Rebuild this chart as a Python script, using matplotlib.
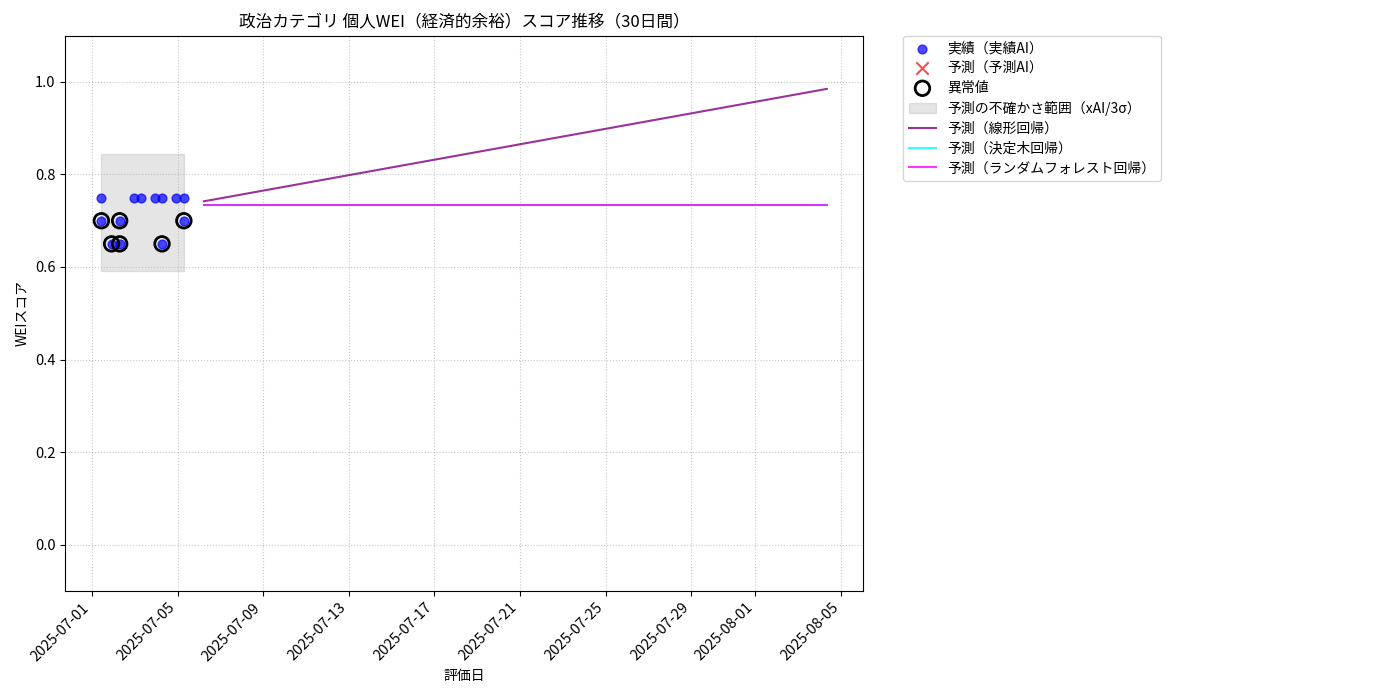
import matplotlib
matplotlib.use("Agg")
import matplotlib.pyplot as plt
import matplotlib.dates as mdates
import pandas as pd

plt.rcParams['font.family'] = ['Noto Sans CJK JP', 'DejaVu Sans']

# Actual scores (実績AI)
actual_dates = ["2025-07-01 10:30", "2025-07-01 10:30", "2025-07-01 22:00",
                "2025-07-02 07:00", "2025-07-02 07:00", "2025-07-02 23:00",
                "2025-07-03 06:30", "2025-07-03 22:30", "2025-07-04 06:30",
                "2025-07-04 06:30", "2025-07-04 22:00", "2025-07-05 07:00",
                "2025-07-05 07:00"]
actual_scores = [0.75, 0.70, 0.65, 0.70, 0.65, 0.75, 0.75, 0.75, 0.75,
                 0.65, 0.75, 0.75, 0.70]

# Anomalies (異常値)
anomaly_dates = ["2025-07-01 10:30", "2025-07-01 22:00", "2025-07-02 07:00",
                 "2025-07-02 07:00", "2025-07-04 06:30", "2025-07-05 07:00"]
anomaly_scores = [0.70, 0.65, 0.70, 0.65, 0.65, 0.70]

# Uncertainty band (xAI/3σ)
band_dates = ["2025-07-01 10:30", "2025-07-05 07:00"]
band_low = [0.591, 0.591]
band_high = [0.844, 0.844]

# Forecasts
forecast_dates = ["2025-07-06 05:30", "2025-08-04 08:00"]
linear_pred = [0.742, 0.985]
tree_pred = [0.734, 0.734]
forest_pred = [0.734, 0.734]

ad = pd.to_datetime(actual_dates)
an = pd.to_datetime(anomaly_dates)
bd = pd.to_datetime(band_dates)
fd = pd.to_datetime(forecast_dates)

fig = plt.figure(figsize=(14, 7), dpi=100)
ax = fig.add_axes([0.0465, 0.156, 0.570, 0.793])

ax.scatter(ad, actual_scores, color='blue', alpha=0.7, s=40, label='実績（実績AI）', zorder=3)
ax.scatter([], [], color='red', marker='x', alpha=0.7, s=80, label='予測（予測AI）')
ax.scatter(an, anomaly_scores, facecolors='none', edgecolors='black', s=110,
           linewidths=2, label='異常値', zorder=4)
ax.fill_between(bd, band_low, band_high, color='gray', alpha=0.2,
                label='予測の不確かさ範囲（xAI/3σ）')
ax.plot(fd, linear_pred, color='purple', alpha=0.8, linewidth=1.5, label='予測（線形回帰）')
ax.plot(fd, tree_pred, color='cyan', alpha=0.8, linewidth=1.5, label='予測（決定木回帰）')
ax.plot(fd, forest_pred, color='magenta', alpha=0.8, linewidth=1.5, label='予測（ランダムフォレスト回帰）')

ax.set_ylim(-0.1, 1.1)
ax.xaxis.set_major_locator(mdates.DayLocator(bymonthday=[1, 5, 9, 13, 17, 21, 25, 29]))
ax.xaxis.set_major_formatter(mdates.DateFormatter('%Y-%m-%d'))
plt.setp(ax.get_xticklabels(), rotation=45, ha='right', fontsize=10.5)
plt.setp(ax.get_yticklabels(), fontsize=10.5)
ax.grid(True, linestyle=':', alpha=0.7)

ax.set_title('政治カテゴリ 個人WEI（経済的余裕）スコア推移（30日間）', fontsize=12)
ax.set_xlabel('評価日')
ax.set_ylabel('WEIスコア')
ax.legend(loc='upper left', bbox_to_anchor=(1.05, 1.0), borderaxespad=0.,
          labelspacing=0.42)

fig.savefig('out.png', dpi=100)
